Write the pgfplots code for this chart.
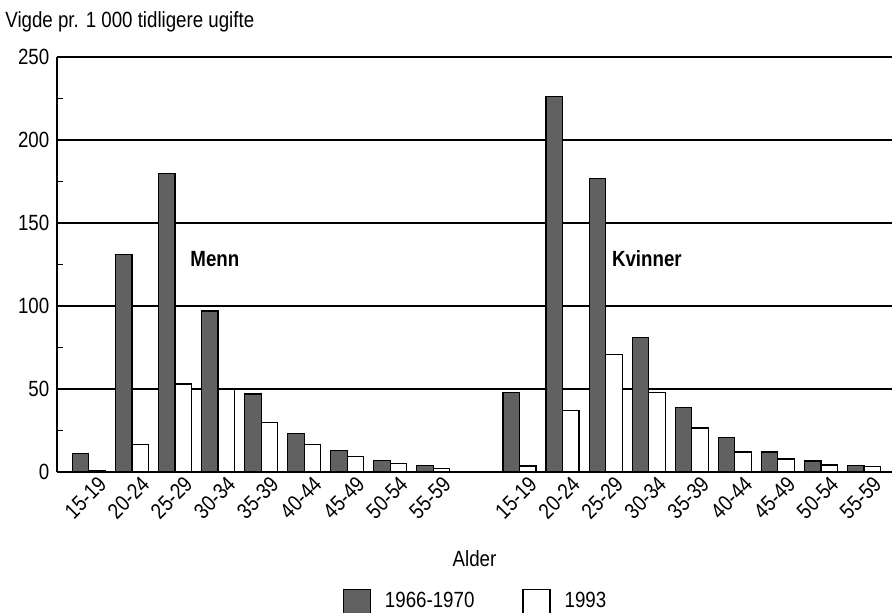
\documentclass[border=0pt]{standalone}
\usepackage{fontspec}
\setmainfont{Liberation Sans}[FakeStretch=0.85]
\usepackage{pgfplots}
\pgfplotsset{compat=1.18}

\definecolor{darkbar}{gray}{0.38}

\begin{document}
\fontsize{11}{13}\selectfont
\begin{tikzpicture}
\begin{axis}[
  scale only axis,
  width=417.5pt, height=207.5pt,
  ybar=0pt, bar width=8.25pt,
  xmin=-0.74, xmax=18.65,
  ymin=0, ymax=250,
  axis lines*=left,
  axis line style={line width=0.7pt},
  ytick={0,50,...,250},
  minor ytick={25,75,...,225},
  ymajorgrids,
  major grid style={black, line width=0.6pt},
  tick align=inside,
  major tick length=0pt,
  minor tick length=3pt,
  minor tick style={black, line width=0.6pt},
  xtick={0,1,2,3,4,5,6,7,8,10,11,12,13,14,15,16,17,18},
  xticklabels={15-19,20-24,25-29,30-34,35-39,40-44,45-49,50-54,55-59,
               15-19,20-24,25-29,30-34,35-39,40-44,45-49,50-54,55-59},
  x tick label style={rotate=45, anchor=north east, inner sep=1pt, xshift=2.8pt, yshift=-2.8pt},
  xtick style={draw=none},
  /pgf/number format/assume math mode=true,
  tick label style={font=\fontsize{11}{13}\selectfont},
  legend style={at={(0.5,0)}, anchor=north, yshift=-56pt, draw=none,
    legend columns=2, font=\fontsize{11}{13}\selectfont,
    nodes={inner xsep=0pt},
    /tikz/every odd column/.append style={column sep=7pt},
    /tikz/every even column/.append style={column sep=24pt}},
  legend image code/.code={\draw[#1] (0pt,-6pt) rectangle (13.5pt,6pt);},
  clip=false,
]
\addplot[fill=darkbar, draw=black, line width=0.6pt] coordinates {
  (0,11) (1,131) (2,180) (3,97) (4,47) (5,23) (6,13) (7,7) (8,4)
  (10,48) (11,226) (12,177) (13,81) (14,39) (15,21) (16,12) (17,6.6) (18,4)
};
\addlegendentry{1966-1970}
\addplot[fill=white, draw=black, line width=0.6pt] coordinates {
  (0,1) (1,16.5) (2,53) (3,49.5) (4,30) (5,16.5) (6,9.4) (7,5.2) (8,2.2)
  (10,3.6) (11,37) (12,71) (13,48) (14,26.5) (15,12) (16,7.8) (17,4.2) (18,3.2)
};
\addlegendentry{1993}

\node[anchor=base west, inner sep=0pt, font=\bfseries] at (axis cs:2.35,123.5) {Menn};
\node[anchor=base west, inner sep=0pt, font=\bfseries] at (axis cs:12.14,123.5) {Kvinner};
\node[anchor=base] at ([yshift=-47.5pt]rel axis cs:0.5,0) {Alder};
\node[anchor=base west, inner sep=0pt] at ([xshift=-26pt, yshift=14.5pt]rel axis cs:0,1) {Vigde pr. 1 000 tidligere ugifte};
\coordinate (tl) at ([xshift=-28.5pt, yshift=28.5pt]rel axis cs:0,1);
\coordinate (br) at ([yshift=-70.5pt]rel axis cs:1,0);
\end{axis}
\pgfresetboundingbox
\path[use as bounding box] (tl) rectangle (br);
\end{tikzpicture}
\end{document}
